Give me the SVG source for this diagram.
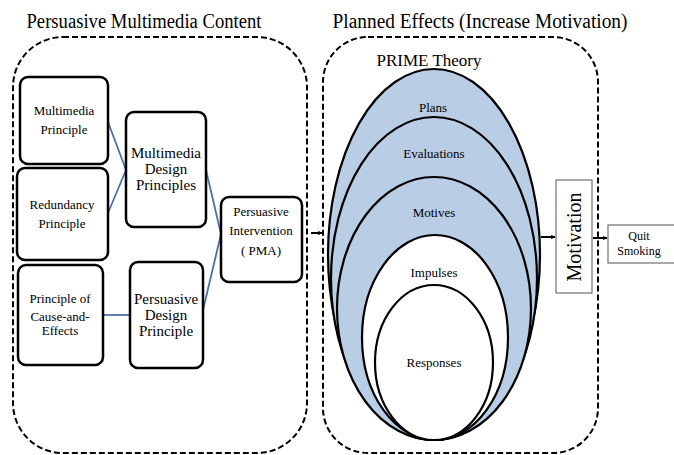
<svg xmlns="http://www.w3.org/2000/svg" width="674" height="455" viewBox="0 0 674 455">
<defs>
<style>
text{font-family:"Times New Roman","Liberation Serif",Times,"Nimbus Roman","DejaVu Serif",serif;fill:#000;text-anchor:middle}
.box{fill:#fff;stroke:#000;stroke-width:2.5}
.cont{fill:none;stroke:#000;stroke-width:2;stroke-dasharray:6 3}
.blue{stroke:#4a72aa;stroke-width:1.8;fill:none}
.ell{stroke:#000;stroke-width:2.2}
.arr{stroke:#000;stroke-width:2;fill:none;marker-end:url(#ah)}
.t13{font-size:13px}
.t15{font-size:15px}
</style>
<marker id="ah" viewBox="0 0 10 10" refX="9" refY="5" markerWidth="5" markerHeight="5" orient="auto" markerUnits="userSpaceOnUse">
<path d="M0,0 L10,5 L0,10 L3,5 Z" fill="#000"/>
</marker>
</defs>
<rect width="674" height="455" fill="#fff"/>

<g id="left-container">
<rect class="cont" x="13" y="37" width="294" height="416" rx="50" ry="50"/>
<text x="144" y="28" font-size="20" textLength="235" lengthAdjust="spacingAndGlyphs">Persuasive Multimedia Content</text>
</g>
<g id="right-container">
<rect class="cont" x="323" y="37" width="275" height="416" rx="45" ry="45"/>
<text x="480" y="28" font-size="20" textLength="295" lengthAdjust="spacingAndGlyphs">Planned Effects (Increase Motivation)</text>
</g>

<g id="connectors">
<line class="blue" x1="108" y1="122" x2="126" y2="170"/>
<line class="blue" x1="108" y1="213" x2="126" y2="170"/>
<line class="blue" x1="103" y1="315" x2="130" y2="315"/>
<line class="blue" x1="206" y1="170" x2="221" y2="234"/>
<line class="blue" x1="203" y1="310" x2="221" y2="234"/>
<line class="arr" x1="311" y1="233" x2="322" y2="233"/>
<line class="arr" x1="541" y1="237" x2="555" y2="237"/>
<line class="arr" x1="593" y1="238" x2="607" y2="238"/>
</g>

<g id="multimedia-principle">
<rect class="box" x="20" y="77" width="88" height="87" rx="8"/>
<text class="t13" x="64" y="115">Multimedia</text>
<text class="t13" x="64" y="134">Principle</text>
</g>
<g id="redundancy-principle">
<rect class="box" x="17" y="168" width="91" height="92" rx="8"/>
<text class="t13" x="62" y="209">Redundancy</text>
<text class="t13" x="62" y="228">Principle</text>
</g>
<g id="cause-effects">
<rect class="box" x="18" y="265" width="85" height="100" rx="8"/>
<text class="t13" x="60" y="303">Principle of</text>
<text class="t13" x="60" y="321">Cause-and-</text>
<text class="t13" x="60" y="335">Effects</text>
</g>
<g id="multimedia-design">
<rect class="box" x="126" y="112" width="80" height="115" rx="8"/>
<text class="t15" x="166" y="158">Multimedia</text>
<text class="t15" x="166" y="174">Design</text>
<text class="t15" x="166" y="190">Principles</text>
</g>
<g id="persuasive-design">
<rect class="box" x="130" y="262" width="73" height="106" rx="8"/>
<text class="t15" x="166" y="304">Persuasive</text>
<text class="t15" x="166" y="320">Design</text>
<text class="t15" x="166" y="336">Principle</text>
</g>
<g id="persuasive-intervention">
<rect class="box" x="221" y="197" width="81" height="85" rx="8"/>
<text class="t13" x="261" y="216">Persuasive</text>
<text class="t13" x="261" y="235">Intervention</text>
<text class="t13" x="261" y="255">( PMA)</text>
</g>

<g id="prime-theory">
<text x="429" y="66" font-size="17">PRIME Theory</text>
<ellipse class="ell" cx="434" cy="254.5" rx="106" ry="185.5" fill="#b9cde5"/>
<ellipse class="ell" cx="434" cy="278.5" rx="103" ry="161.5" fill="#b9cde5"/>
<ellipse class="ell" cx="434" cy="308.5" rx="97" ry="131.5" fill="#b9cde5"/>
<ellipse class="ell" cx="435" cy="337.5" rx="73" ry="102.5" fill="#fff"/>
<ellipse class="ell" cx="434" cy="362.5" rx="59" ry="77.5" fill="#fff"/>
<text class="t13" x="433" y="112">Plans</text>
<text class="t13" x="434" y="158">Evaluations</text>
<text class="t13" x="434" y="217">Motives</text>
<text class="t13" x="434" y="277">Impulses</text>
<text class="t13" x="434" y="367">Responses</text>
</g>

<g id="motivation">
<rect x="556" y="180" width="36" height="113" fill="#fff" stroke="#555" stroke-width="1"/>
<text x="0" y="0" font-size="20" transform="translate(581,237) rotate(-90)">Motivation</text>
</g>
<g id="quit-smoking">
<rect x="608" y="225" width="70" height="38" fill="#fff" stroke="#555" stroke-width="1"/>
<text x="639" y="240" font-size="12">Quit</text>
<text x="639" y="255" font-size="12">Smoking</text>
</g>
</svg>
